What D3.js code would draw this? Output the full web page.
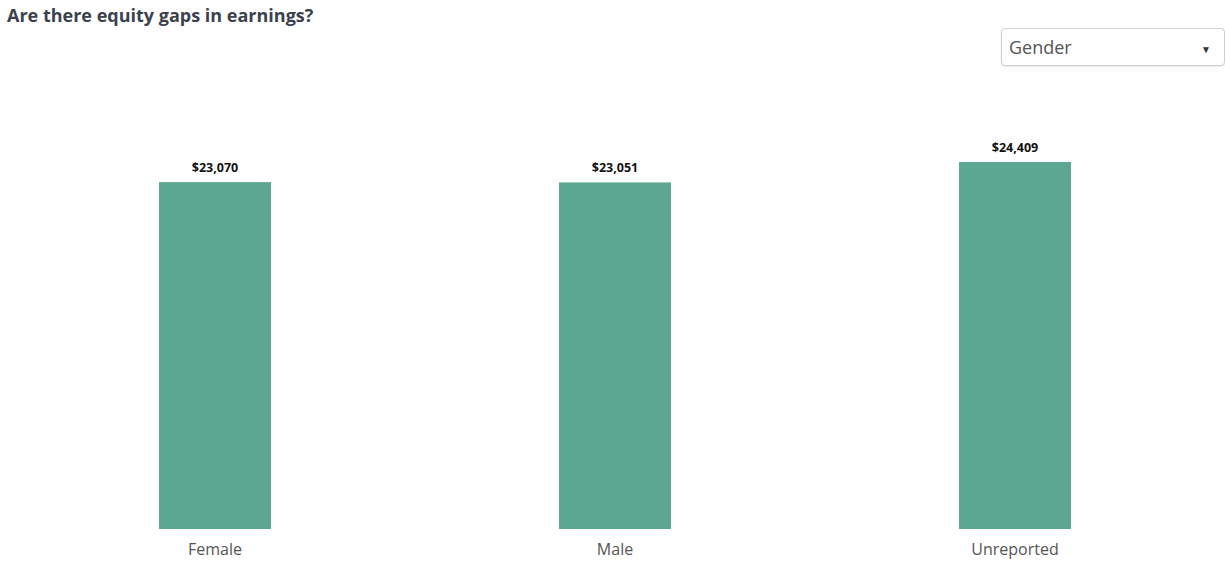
<!DOCTYPE html>
<html>
<head>
<meta charset="utf-8">
<script src="https://cdn.jsdelivr.net/npm/d3@7"></script>
<style>
  html, body { margin: 0; padding: 0; background: #fff; }
  body { width: 1225px; height: 561px; position: relative; overflow: hidden; font-family: "Open Sans", sans-serif; }
  .title { position: absolute; left: 7px; top: 2px; font-size: 18px; font-weight: 700; color: #3b414d; line-height: 26px; }
  .dropdown { position: absolute; left: 1001px; top: 28px; width: 224px; height: 38px; border: 1px solid #cfcfcf; border-radius: 4px; box-sizing: border-box; background: #fff; box-shadow: 0 1px 2px rgba(0,0,0,0.08); }
  .dropdown .lbl { position: absolute; left: 7px; top: 5px; font-size: 18px; color: #555; line-height: 26px; }
  .dropdown .arr { position: absolute; right: 13px; top: 13px; font-size: 10px; color: #333; }
  svg { position: absolute; left: 0; top: 0; }
</style>
</head>
<body>
<div class="title">Are there equity gaps in earnings?</div>
<div class="dropdown"><span class="lbl">Gender</span><span class="arr">&#9660;</span></div>
<svg id="chart" width="1225" height="561"></svg>
<script>
const categories = ["Female", "Male", "Unreported"];
const values = [23070, 23051, 24409];

const svg = d3.select("#chart");
const x = d3.scaleBand().domain(categories).range([15, 1215]).paddingInner(0.72).paddingOuter(0.36);
const y = d3.scaleLinear().domain([0, d3.max(values)]).range([529, 162]);

const data = categories.map((c, i) => ({ c, v: values[i] }));

svg.selectAll("rect.bar").data(data).join("rect")
  .attr("class", "bar")
  .attr("x", d => x(d.c))
  .attr("width", x.bandwidth())
  .attr("y", d => y(d.v))
  .attr("height", d => y(0) - y(d.v))
  .attr("fill", "#5ca792");

const fmt = d3.format("$,.0f");
svg.selectAll("text.val").data(data).join("text")
  .attr("class", "val")
  .attr("x", d => x(d.c) + x.bandwidth() / 2)
  .attr("y", d => y(d.v) - 10)
  .attr("text-anchor", "middle")
  .attr("font-family", "Open Sans, sans-serif")
  .attr("font-size", 12.5)
  .attr("font-weight", 700)
  .attr("fill", "#111")
  .text(d => fmt(d.v));

const xAxis = svg.append("g").attr("transform", "translate(0,529)")
  .call(d3.axisBottom(x).tickSize(0).tickPadding(15));
xAxis.select(".domain").remove();
xAxis.selectAll("text")
  .attr("font-family", "Open Sans, sans-serif")
  .attr("font-size", 16)
  .attr("fill", "#555");
</script>
</body>
</html>
